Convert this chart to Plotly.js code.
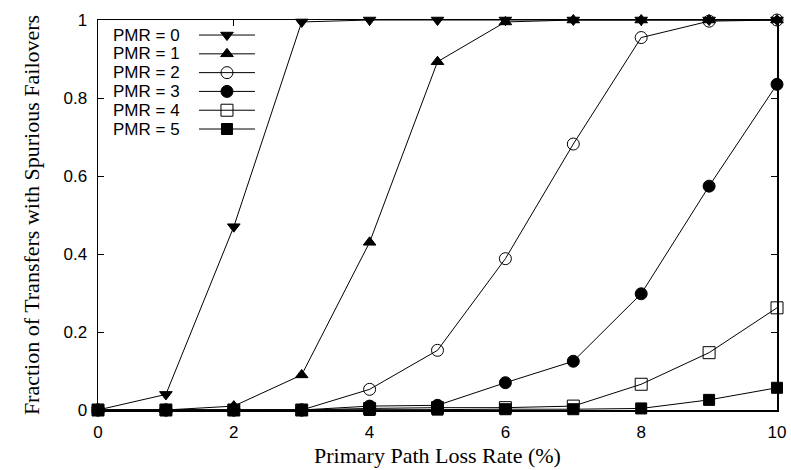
<!DOCTYPE html>
<html>
<head>
<meta charset="utf-8">
<script src="https://cdn.plot.ly/plotly-3.0.1.min.js"></script>
<style>html,body{margin:0;padding:0;background:#fff;}#chart{width:791px;height:470px;}</style>
</head>
<body>
<div id="chart"></div>
<script>
// ---- data ----
const lossRate = [0, 1, 2, 3, 4, 5, 6, 7, 8, 9, 10];
const seriesNames = ["PMR = 0", "PMR = 1", "PMR = 2", "PMR = 3", "PMR = 4", "PMR = 5"];
const pmr0 = [0, 0.04, 0.47, 0.995, 1, 1, 1, 1, 1, 1, 1];
const pmr1 = [0, 0, 0.01, 0.09, 0.43, 0.893, 0.995, 1, 1, 1, 1];
const pmr2 = [0, 0, 0, 0, 0.053, 0.153, 0.388, 0.682, 0.955, 0.997, 1];
const pmr3 = [0, 0, 0, 0, 0.01, 0.012, 0.07, 0.125, 0.298, 0.574, 0.835];
const pmr4 = [0, 0, 0, 0, 0.004, 0.006, 0.006, 0.01, 0.066, 0.147, 0.262];
const pmr5 = [0, 0, 0, 0, 0, 0.001, 0.002, 0.002, 0.004, 0.026, 0.057];
const seriesValues = [pmr0, pmr1, pmr2, pmr3, pmr4, pmr5];
const xTicks = [0, 2, 4, 6, 8, 10];
const yTicks = [0, 0.2, 0.4, 0.6, 0.8, 1];

// ---- styles ----
const symbols = ["triangle-down", "triangle-up", "circle-open", "circle", "square-open", "square"];
const sizes = [11, 11, 12, 12, 12, 11];

const traces = [];
seriesNames.forEach((name, i) => {
  traces.push({
    x: lossRate, y: seriesValues[i], type: "scatter", mode: "lines+markers",
    name: name, showlegend: false, cliponaxis: false,
    line: {color: "#000", width: 1},
    marker: {symbol: symbols[i], size: sizes[i], color: "#000", line: {color: "#000", width: 1}}
  });
});

// custom legend (symbol to the right of text, gnuplot-style)
const legX0 = 0.1487, legX1 = 0.2312, legXm = (legX0 + legX1) / 2, legTextX = 0.1237;
const annotations = [];
seriesNames.forEach((name, i) => {
  traces.push({
    x: [legX0, legX1], y: [i, i], xaxis: "x2", yaxis: "y2", type: "scatter", mode: "lines",
    showlegend: false, hoverinfo: "skip", line: {color: "#000", width: 1}
  });
  traces.push({
    x: [legXm], y: [i], xaxis: "x2", yaxis: "y2", type: "scatter", mode: "markers",
    showlegend: false, hoverinfo: "skip",
    marker: {symbol: symbols[i], size: sizes[i], color: "#000", line: {color: "#000", width: 1}}
  });
  annotations.push({
    xref: "x2", yref: "y2", x: legTextX, y: i, text: name, showarrow: false,
    xanchor: "right", yanchor: "middle",
    font: {family: "Liberation Sans, Arial, sans-serif", size: 17, color: "#000"}
  });
});

const tickFont = {family: "Liberation Sans, Arial, sans-serif", size: 17, color: "#000"};
const titleFont = {family: "Liberation Serif, Times New Roman, serif", size: 22, color: "#000"};

const layout = {
  width: 791, height: 470,
  margin: {l: 98, r: 14, t: 20, b: 60},
  paper_bgcolor: "#fff", plot_bgcolor: "#fff",
  showlegend: false,
  xaxis: {
    range: [0, 10], tickvals: xTicks, ticktext: xTicks.map(String),
    ticks: "inside", ticklen: 6, tickcolor: "#000", tickwidth: 1,
    showline: true, linecolor: "#000", linewidth: 1.5, mirror: "allticks",
    showgrid: false, zeroline: false, tickfont: tickFont, ticklabelstandoff: 6,
    title: {text: "Primary Path Loss Rate (%)", font: titleFont, standoff: 6}
  },
  yaxis: {
    range: [0, 1], tickvals: yTicks, ticktext: yTicks.map(String),
    ticks: "inside", ticklen: 6, tickcolor: "#000", tickwidth: 1,
    showline: true, linecolor: "#000", linewidth: 1.5, mirror: "allticks",
    showgrid: false, zeroline: false, tickfont: tickFont, ticklabelstandoff: 6,
    title: {text: "Fraction of Transfers with Spurious Failovers", font: titleFont, standoff: 18}
  },
  xaxis2: {overlaying: "x", range: [0, 1], visible: false, fixedrange: true},
  yaxis2: {overlaying: "y", range: [19.95, -0.8], visible: false, fixedrange: true},
  annotations: annotations
};

Plotly.newPlot("chart", traces, layout, {displayModeBar: false, staticPlot: true});
</script>
</body>
</html>
